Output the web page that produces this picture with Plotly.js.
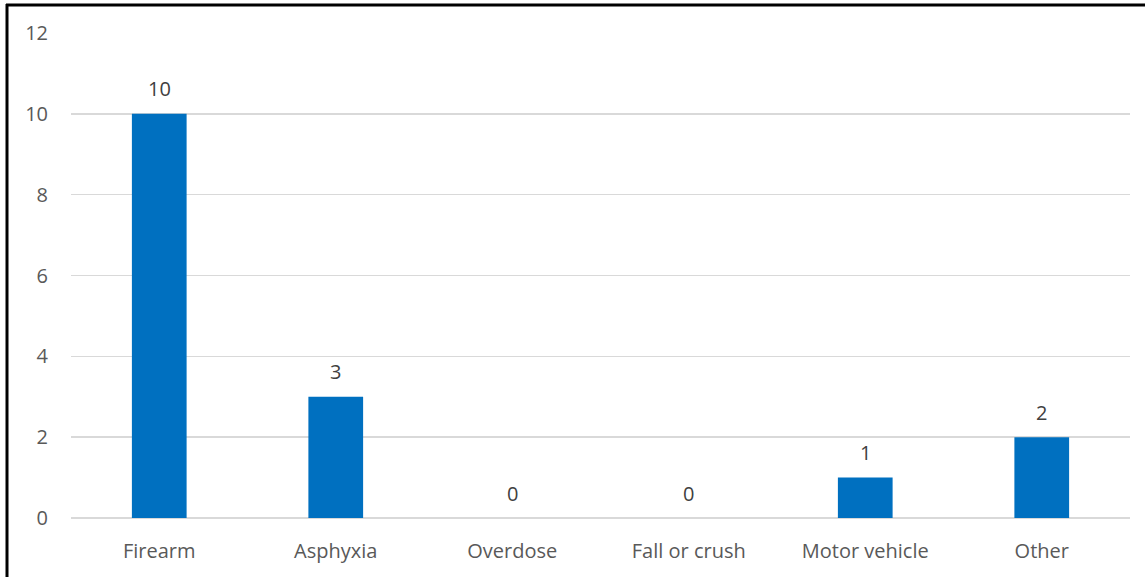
<!DOCTYPE html>
<html>
<head>
<meta charset="utf-8">
<script src="https://cdn.plot.ly/plotly-3.0.1.min.js"></script>
<style>html,body{margin:0;padding:0;background:#fff;}#chart{width:1145px;height:577px;}</style>
</head>
<body>
<div id="chart"></div>
<script>
const categories = ["Firearm", "Asphyxia", "Overdose", "Fall or crush", "Motor vehicle", "Other"];
const values = [10, 3, 0, 0, 1, 2];
const yTicks = [0, 2, 4, 6, 8, 10, 12];

const W = 1145, H = 577;
const margin = {l: 71, r: 15, t: 33, b: 59};
const pw = W - margin.l - margin.r, ph = H - margin.t - margin.b;
const fx = px => (px - margin.l) / pw;
const fy = py => (H - margin.b - py) / ph;

const FONT = "Open Sans, sans-serif";

const trace = {
  type: "bar",
  x: categories,
  y: values,
  width: 0.31,
  marker: {color: "#0070C0"},
  hoverinfo: "none"
};

const annotations = categories.map((c, i) => ({
  x: c, y: values[i], xref: "x", yref: "y",
  text: String(values[i]),
  showarrow: false,
  yanchor: "middle",
  yshift: 25,
  font: {family: FONT, size: 20, color: "#404040"}
}));

const layout = {
  width: W, height: H,
  margin: margin,
  paper_bgcolor: "#ffffff",
  plot_bgcolor: "#ffffff",
  showlegend: false,
  bargap: 0.69,
  font: {family: FONT, size: 20, color: "#595959"},
  xaxis: {
    type: "category",
    showgrid: false,
    zeroline: false,
    showline: false,
    ticks: "",
    tickfont: {family: FONT, size: 20, color: "#595959"},
    ticklabelstandoff: 19
  },
  yaxis: {
    range: [0, 12],
    tickvals: yTicks,
    ticktext: yTicks.map(String),
    showgrid: true,
    gridcolor: "#d9d9d9",
    gridwidth: 1.5,
    zeroline: true,
    zerolinecolor: "#d9d9d9",
    zerolinewidth: 1.5,
    showline: false,
    ticks: "",
    ticklabelstandoff: 22,
    tickfont: {family: FONT, size: 20, color: "#595959"}
  },
  annotations: annotations,
  shapes: [
    {type: "line", xref: "paper", yref: "paper", x0: fx(7), x1: fx(7), y0: fy(4), y1: fy(H + 2), line: {color: "#000", width: 3}},
    {type: "line", xref: "paper", yref: "paper", x0: fx(6), x1: fx(W + 2), y0: fy(5), y1: fy(5), line: {color: "#000", width: 3}}
  ]
};

Plotly.newPlot("chart", [trace], layout, {staticPlot: true, displayModeBar: false});
</script>
</body>
</html>
